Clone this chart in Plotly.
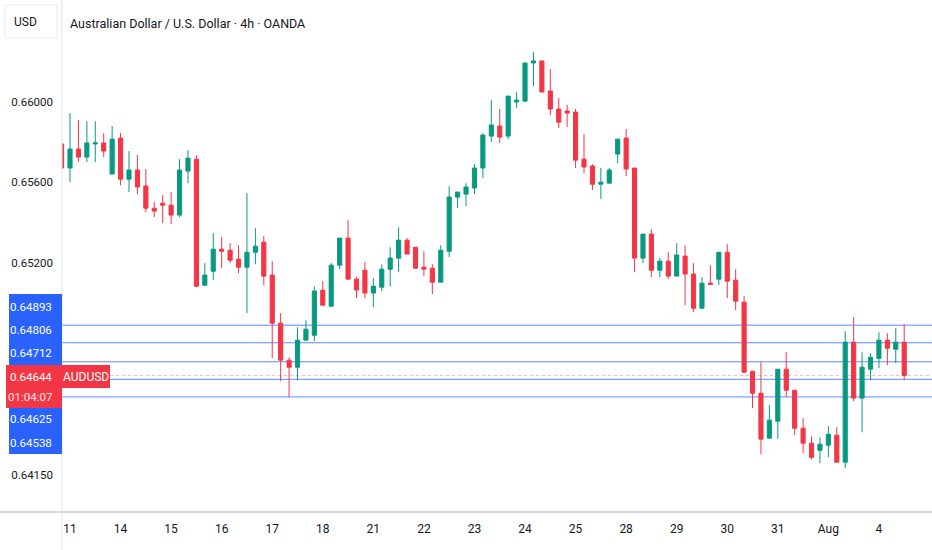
import plotly.graph_objects as go

# AUDUSD 4h candles
day_labels = ["11", "14", "15", "16", "17", "18", "21", "22", "23", "24",
              "25", "28", "29", "30", "31", "Aug", "4"]
day_keys = ["07-11", "07-14", "07-15", "07-16", "07-17", "07-18", "07-21",
            "07-22", "07-23", "07-24", "07-25", "07-28", "07-29", "07-30",
            "07-31", "08-01", "08-04"]
hours = ["00:00", "04:00", "08:00", "12:00", "16:00", "20:00"]

opens = [0.65790, 0.65671, 0.65765, 0.65725, 0.65790, 0.65795, 0.65641, 0.65819, 0.65616, 0.65661,
         0.65582, 0.65472, 0.65497, 0.65487, 0.65438, 0.65656, 0.65715, 0.65091, 0.65160, 0.65269,
         0.65264, 0.65220, 0.65180, 0.65254, 0.65304, 0.65141, 0.64903, 0.64720, 0.64685, 0.64819,
         0.64843, 0.65066, 0.64987, 0.65190, 0.65324, 0.65121, 0.65165, 0.65052, 0.65081, 0.65170,
         0.65225, 0.65314, 0.65279, 0.65180, 0.65175, 0.65106, 0.65259, 0.65527, 0.65542, 0.65572,
         0.65671, 0.65829, 0.65879, 0.65829, 0.65998, 0.66002, 0.66191, 0.66201, 0.66052, 0.65963,
         0.65953, 0.65948, 0.65715, 0.65681, 0.65591, 0.65596, 0.65740, 0.65819, 0.65671, 0.65225,
         0.65344, 0.65165, 0.65210, 0.65136, 0.65235, 0.65146, 0.64977, 0.65101, 0.65121, 0.65254,
         0.65116, 0.65007, 0.64665, 0.64556, 0.64334, 0.64418, 0.64675, 0.64571, 0.64383, 0.64309,
         0.64274, 0.64299, 0.64348, 0.64215, 0.64809, 0.64532, 0.64675, 0.64729, 0.64819, 0.64774,
         0.64809]
highs = [0.65795, 0.65943, 0.65908, 0.65903, 0.65903, 0.65844, 0.65879, 0.65844, 0.65755, 0.65735,
         0.65666, 0.65502, 0.65537, 0.65552, 0.65715, 0.65760, 0.65735, 0.65200, 0.65349, 0.65329,
         0.65299, 0.65289, 0.65547, 0.65373, 0.65334, 0.65210, 0.64953, 0.64734, 0.64883, 0.64918,
         0.65086, 0.65111, 0.65200, 0.65324, 0.65413, 0.65131, 0.65205, 0.65126, 0.65195, 0.65279,
         0.65378, 0.65324, 0.65279, 0.65259, 0.65195, 0.65289, 0.65581, 0.65552, 0.65596, 0.65690,
         0.65844, 0.66007, 0.65963, 0.66027, 0.66047, 0.66191, 0.66245, 0.66201, 0.66161, 0.66017,
         0.65983, 0.65963, 0.65839, 0.65690, 0.65671, 0.65671, 0.65814, 0.65864, 0.65671, 0.65344,
         0.65368, 0.65225, 0.65254, 0.65299, 0.65289, 0.65200, 0.65131, 0.65190, 0.65254, 0.65294,
         0.65170, 0.65037, 0.64665, 0.64710, 0.64497, 0.64675, 0.64759, 0.64571, 0.64433, 0.64343,
         0.64338, 0.64393, 0.64388, 0.64863, 0.64933, 0.64759, 0.64754, 0.64858, 0.64853, 0.64878,
         0.64898]
lows = [0.65666, 0.65602, 0.65701, 0.65701, 0.65701, 0.65725, 0.65641, 0.65586, 0.65552, 0.65542,
        0.65453, 0.65428, 0.65398, 0.65393, 0.65428, 0.65596, 0.65081, 0.65091, 0.65116, 0.65175,
        0.65200, 0.65151, 0.64953, 0.65195, 0.65091, 0.64730, 0.64616, 0.64537, 0.64621, 0.64819,
        0.64814, 0.64992, 0.64987, 0.65170, 0.65121, 0.65027, 0.65027, 0.64982, 0.65062, 0.65086,
        0.65155, 0.65245, 0.65175, 0.65136, 0.65047, 0.65106, 0.65230, 0.65472, 0.65482, 0.65542,
        0.65621, 0.65800, 0.65795, 0.65814, 0.65968, 0.66002, 0.66077, 0.66047, 0.65933, 0.65869,
        0.65874, 0.65671, 0.65646, 0.65562, 0.65517, 0.65596, 0.65695, 0.65631, 0.65155, 0.65200,
        0.65131, 0.65131, 0.65121, 0.65136, 0.64992, 0.64957, 0.64977, 0.65096, 0.65091, 0.65027,
        0.64967, 0.64660, 0.64482, 0.64254, 0.64329, 0.64329, 0.64537, 0.64348, 0.64259, 0.64229,
        0.64210, 0.64239, 0.64215, 0.64185, 0.64517, 0.64363, 0.64621, 0.64680, 0.64695, 0.64705,
        0.64621]
closes = [0.65671, 0.65765, 0.65725, 0.65795, 0.65795, 0.65755, 0.65814, 0.65616, 0.65661, 0.65577,
          0.65472, 0.65458, 0.65487, 0.65438, 0.65661, 0.65720, 0.65086, 0.65141, 0.65269, 0.65259,
          0.65215, 0.65180, 0.65254, 0.65284, 0.65136, 0.64903, 0.64720, 0.64685, 0.64819, 0.64873,
          0.65062, 0.64992, 0.65190, 0.65324, 0.65121, 0.65067, 0.65052, 0.65086, 0.65170, 0.65225,
          0.65314, 0.65245, 0.65175, 0.65170, 0.65106, 0.65264, 0.65527, 0.65552, 0.65577, 0.65671,
          0.65834, 0.65884, 0.65824, 0.66027, 0.66007, 0.66191, 0.66201, 0.66047, 0.65963, 0.65898,
          0.65943, 0.65710, 0.65676, 0.65591, 0.65601, 0.65661, 0.65814, 0.65666, 0.65225, 0.65344,
          0.65165, 0.65210, 0.65136, 0.65240, 0.65146, 0.64977, 0.65101, 0.65096, 0.65254, 0.65111,
          0.65012, 0.64660, 0.64556, 0.64329, 0.64423, 0.64675, 0.64571, 0.64383, 0.64309, 0.64239,
          0.64304, 0.64353, 0.64215, 0.64809, 0.64532, 0.64685, 0.64734, 0.64819, 0.64779, 0.64809,
          0.64644]

level_prices = [0.64893, 0.64806, 0.64712, 0.64625, 0.64538]
last_price = 0.64644
countdown = "01:04:07"
y_ticks = [0.66000, 0.65600, 0.65200, 0.64150]

GREEN = '#089981'
RED = '#F23645'
TEXT = '#131722'
FONT = 'Roboto'

# one category per 4h bar; the first bar is the last one of Jul 10
times = ["07-10 20:00"]
for key in day_keys:
    n = 4 if key == "08-04" else 6
    times += [f"{key} {h}" for h in hours[:n]]
first_of_day = [f"{key} 00:00" for key in day_keys]

W, H = 932, 550
ML, MB = 62, 38
plot_w, plot_h = W - ML, H - MB


def px_x(x):
    return (x - ML) / plot_w


def px_y(y):
    return 1 - y / plot_h


fig = go.Figure(go.Candlestick(
    x=times, open=opens, high=highs, low=lows, close=closes,
    increasing=dict(line=dict(color=GREEN, width=1), fillcolor=GREEN),
    decreasing=dict(line=dict(color=RED, width=1), fillcolor=RED),
    whiskerwidth=0, hoverinfo='skip',
))

shapes = []
for lv in level_prices:
    shapes.append(dict(type='line', xref='paper', yref='y', x0=0, x1=1, y0=lv, y1=lv,
                       line=dict(color='rgba(41,98,255,0.75)', width=1), layer='below'))
shapes.append(dict(type='line', xref='paper', yref='y', x0=0, x1=1, y0=last_price, y1=last_price,
                   line=dict(color='rgba(242,54,69,0.35)', width=1, dash='dot'), layer='below'))
# axis separators
shapes.append(dict(type='line', xref='paper', yref='paper', x0=0, x1=0, y0=px_y(H), y1=1,
                   line=dict(color='#e0e3eb', width=1)))
shapes.append(dict(type='line', xref='paper', yref='paper', x0=px_x(0), x1=1, y0=0, y1=0,
                   line=dict(color='#c9ccd4', width=1.5)))
# left price-scale labels
shapes.append(dict(type='rect', xref='paper', yref='paper', x0=px_x(9), x1=0,
                   y0=px_y(454), y1=px_y(294), fillcolor='#2962FF', line=dict(width=0)))
shapes.append(dict(type='rect', xref='paper', yref='paper', x0=px_x(6), x1=0,
                   y0=px_y(408), y1=px_y(365), fillcolor=RED, line=dict(width=0)))
shapes.append(dict(type='rect', xref='paper', yref='paper', x0=0, x1=px_x(110),
                   y0=px_y(388), y1=px_y(365), fillcolor=RED, line=dict(width=0)))
# USD box
shapes.append(dict(type='rect', xref='paper', yref='paper', x0=px_x(5), x1=px_x(57),
                   y0=px_y(38), y1=px_y(5), fillcolor='white', line=dict(color='#e8eaef', width=1)))

annotations = []
label_rows = [("0.64893", 306.7, 'white'), ("0.64806", 330, 'white'), ("0.64712", 353.3, 'white'),
              ("0.64644", 377, 'white'), (countdown, 397, '#ffe3e6'),
              ("0.64625", 419.3, 'white'), ("0.64538", 442.7, 'white')]
for txt, ypix, col in label_rows:
    annotations.append(dict(text=txt, xref='paper', yref='paper', x=px_x(54), y=px_y(ypix),
                            xanchor='right', yanchor='middle', showarrow=False,
                            font=dict(family=FONT, size=11.5, color=col)))
annotations.append(dict(text="AUDUSD", xref='paper', yref='paper', x=px_x(86), y=px_y(376.5),
                        xanchor='center', yanchor='middle', showarrow=False,
                        font=dict(family=FONT, size=12, color='white')))
annotations.append(dict(text="USD", xref='paper', yref='paper', x=px_x(12), y=px_y(22),
                        xanchor='left', yanchor='middle', showarrow=False,
                        font=dict(family=FONT, size=12, color=TEXT)))
annotations.append(dict(text="Australian Dollar / U.S. Dollar · 4h · OANDA", xref='paper', yref='paper',
                        x=px_x(68), y=px_y(23), xanchor='left', yanchor='middle', showarrow=False,
                        font=dict(family=FONT, size=12.5, color=TEXT)))

fig.update_layout(
    width=W, height=H,
    margin=dict(l=ML, r=0, t=0, b=MB),
    paper_bgcolor='white', plot_bgcolor='white',
    showlegend=False,
    shapes=shapes, annotations=annotations,
    font=dict(family=FONT, size=12, color=TEXT),
)
fig.update_xaxes(
    type='category', rangeslider_visible=False,
    range=[0.05, 103.3],
    tickmode='array', tickvals=first_of_day, ticktext=day_labels,
    showgrid=False, zeroline=False, showline=False,
    ticks='', ticklabelstandoff=8,
    tickfont=dict(family=FONT, size=12, color=TEXT),
)
fig.update_yaxes(
    side='left', range=[0.639683, 0.665027],
    tickmode='array', tickvals=y_ticks, ticktext=[f"{v:.5f}" for v in y_ticks],
    showgrid=False, zeroline=False, showline=False,
    ticks='', ticklabelstandoff=8,
    tickfont=dict(family=FONT, size=11.5, color=TEXT),
)

fig.write_html("out.html", config={'displayModeBar': False},
               post_script="document.body.style.margin='0';")
